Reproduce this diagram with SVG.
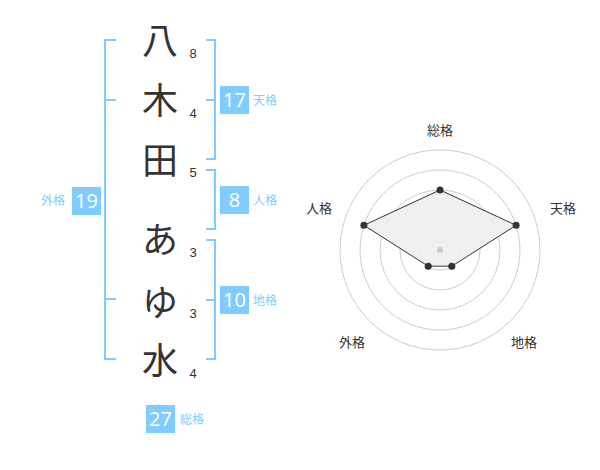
<svg xmlns="http://www.w3.org/2000/svg" width="600" height="470" viewBox="0 0 600 470">
<style>
.ch{font-family:"Noto Sans CJK JP","Noto Sans",sans-serif;font-size:36px;fill:#333;text-anchor:middle}
.num{font-family:"Liberation Sans","Noto Sans",sans-serif;font-size:13px;fill:#333;text-anchor:middle}
.br{fill:none;stroke:#80ccff;stroke-width:2}
.box{fill:#80ccff}
.bt{font-family:"Open Sans","Liberation Sans",sans-serif;font-size:20px;fill:#fff;text-anchor:middle}
.lb{font-family:"Noto Sans CJK JP",sans-serif;font-size:12px;fill:#80ccff}
.rl{font-family:"Noto Sans CJK JP",sans-serif;font-size:13px;fill:#333;text-anchor:middle}
.ring{fill:none;stroke:#ccc;stroke-width:1}
.pt{fill:#333}
</style>
<rect width="600" height="470" fill="#fff"/>
<g id="chars">
<text class="ch" x="160" y="54">八</text>
<text class="ch" x="160" y="114">木</text>
<text class="ch" x="160" y="174">田</text>
<text class="ch" x="160" y="253">あ</text>
<text class="ch" x="160" y="316">ゆ</text>
<text class="ch" x="160" y="374">水</text>
</g>
<g id="strokes">
<text class="num" x="193" y="58">8</text>
<text class="num" x="193" y="118">4</text>
<text class="num" x="193" y="177">5</text>
<text class="num" x="193" y="257">3</text>
<text class="num" x="193" y="318">3</text>
<text class="num" x="193" y="378">4</text>
</g>
<g id="connectors">
<path class="br" d="M116,40 H105 V359 H116 M105,100 H116 M105,299 H116"/>
<path class="br" d="M206,40 H215 V159 H206 M215,100 H206"/>
<path class="br" d="M206,170 H215 V229 H206"/>
<path class="br" d="M206,240 H215 V359 H206 M215,300 H206"/>
</g>
<g id="gaikaku">
<rect class="box" x="72" y="187" width="29" height="28"/>
<text class="bt" x="86.5" y="208">19</text>
<text class="lb" x="41" y="205">外格</text>
</g>
<g id="tenkaku">
<rect class="box" x="220" y="86" width="29" height="28"/>
<text class="bt" x="234.5" y="107">17</text>
<text class="lb" x="253" y="105">天格</text>
</g>
<g id="jinkaku">
<rect class="box" x="220" y="186" width="29" height="28"/>
<text class="bt" x="234.5" y="207">8</text>
<text class="lb" x="253" y="205">人格</text>
</g>
<g id="chikaku">
<rect class="box" x="220" y="286" width="29" height="28"/>
<text class="bt" x="234.5" y="307">10</text>
<text class="lb" x="253" y="305">地格</text>
</g>
<g id="soukaku">
<rect class="box" x="146" y="405" width="29" height="28"/>
<text class="bt" x="160.5" y="426">27</text>
<text class="lb" x="180" y="424">総格</text>
</g>
<g id="radar">
<circle class="ring" cx="440" cy="250" r="20"/>
<circle class="ring" cx="440" cy="250" r="40"/>
<circle class="ring" cx="440" cy="250" r="60"/>
<circle class="ring" cx="440" cy="250" r="80"/>
<circle class="ring" cx="440" cy="250" r="100"/>
<polygon points="440,190 516.1,225.3 451.8,266.2 428.2,266.2 363.9,225.3" fill="#eee" fill-opacity="0.9" stroke="#333" stroke-width="1"/>
<circle cx="440" cy="250" r="3" fill="#ccc"/>
<circle class="pt" cx="440" cy="190" r="3.5"/>
<circle class="pt" cx="516.1" cy="225.3" r="3.5"/>
<circle class="pt" cx="451.8" cy="266.2" r="3.5"/>
<circle class="pt" cx="428.2" cy="266.2" r="3.5"/>
<circle class="pt" cx="363.9" cy="225.3" r="3.5"/>
<text class="rl" x="440" y="135">総格</text>
<text class="rl" x="563" y="213">天格</text>
<text class="rl" x="524" y="347">地格</text>
<text class="rl" x="352" y="347">外格</text>
<text class="rl" x="319" y="213">人格</text>
</g>
</svg>
